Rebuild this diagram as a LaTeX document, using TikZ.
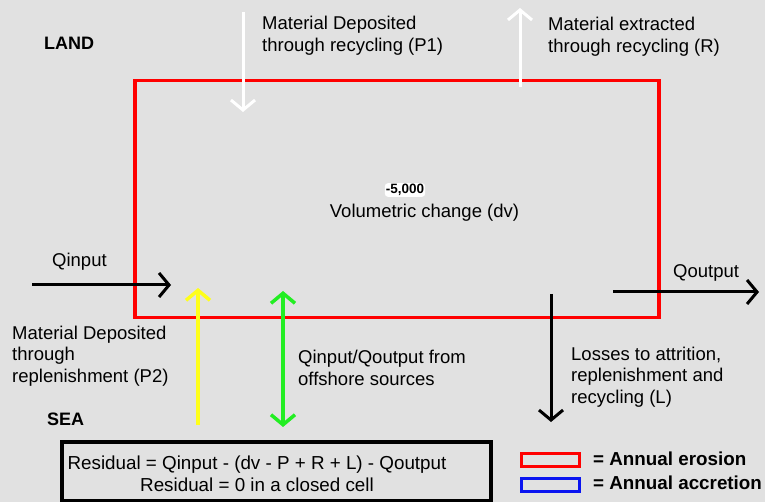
\documentclass[tikz,border=0pt]{standalone}
\usepackage{fontspec}
\setmainfont{Liberation Sans}
\usetikzlibrary{arrows.meta}
\definecolor{bggray}{HTML}{E1E1E1}
\definecolor{arrowyellow}{HTML}{FFFF1A}
\definecolor{arrowgreen}{HTML}{22EE22}
\definecolor{keyblue}{HTML}{0A14F0}
\begin{document}
\begin{tikzpicture}[x=1pt,y=-1pt,
  lbl/.style={font=\fontsize{18.5}{21.5}\selectfont,align=left,anchor=west,inner sep=0pt},
  zone/.style={font=\bfseries\fontsize{18}{21}\selectfont,inner sep=0pt},
  flow/.style={line width=3pt,-{Straight Barb[length=10pt,width=24pt]}},
  keybox/.style={draw,line width=3pt,minimum width=58pt,minimum height=13pt,inner sep=0pt}
]
\useasboundingbox (0,0) rectangle (765,502);
\fill[bggray] (0,0) rectangle (765,502);
% the cell
\node[draw=red,line width=3.5pt,minimum width=524pt,minimum height=237pt,inner sep=0pt,anchor=north west] (cell) at (133,79) {};
\node[font=\bfseries\fontsize{13.5}{15}\selectfont,fill=white,rounded corners=3pt,inner sep=1pt] (dvval) at (405,190) {-5,000};
\node[lbl,anchor=center] (dv) at (424.5,213) {Volumetric change (dv)};
\node[zone,anchor=west] (land) at (44,43) {LAND};
\node[zone,anchor=west] (sea) at (47,419) {SEA};
% recycling
\coordinate (p1top) at (243,12);
\coordinate (p1tip) at (243,112);
\draw[flow,white] (p1top) -- (p1tip);
\node[lbl] (p1) at (262,35.5) {Material Deposited\\through recycling (P1)};
\coordinate (rbot) at (520,87);
\coordinate (rtip) at (520,8);
\draw[flow,white] (rbot) -- (rtip);
\node[lbl] (r) at (548,36.5) {Material extracted\\through recycling (R)};
% longshore
\coordinate (qinstart) at (32,285);
\coordinate (qintip) at (171,285);
\draw[flow] (qinstart) -- (qintip);
\node[lbl] (qin) at (52,262) {Qinput};
\coordinate (qoutstart) at (613,292);
\coordinate (qouttip) at (759,292);
\draw[flow] (qoutstart) -- (qouttip);
\node[lbl] (qout) at (673,273) {Qoutput};
% sea side
\coordinate (p2bot) at (198,425);
\coordinate (p2tip) at (198,288);
\draw[flow,arrowyellow,line width=3.5pt] (p2bot) -- (p2tip);
\node[lbl] (p2) at (12,356) {Material Deposited\\through\\replenishment (P2)};
\coordinate (offtop) at (283,291);
\coordinate (offbot) at (283,427);
\draw[flow,arrowgreen,line width=3.5pt,{Straight Barb[length=10pt,width=24pt]}-{Straight Barb[length=10pt,width=24pt]}] (offtop) -- (offbot);
\node[lbl] (off) at (298,368) {Qinput/Qoutput from\\offshore sources};
\coordinate (losstop) at (551,294);
\coordinate (losstip) at (551,422);
\draw[flow] (losstop) -- (losstip);
\node[lbl] (loss) at (571,377) {Losses to attrition,\\replenishment and\\recycling (L)};
% budget
\node[draw,line width=4pt,minimum width=429pt,minimum height=59pt,inner sep=0pt,anchor=north west] (resid) at (60,440) {};
\node[font=\fontsize{18.8}{22}\selectfont,align=center,inner sep=0pt] (residtext) at (257,474) {Residual = Qinput - (dv - P + R + L) - Qoutput\\Residual = 0 in a closed cell};
% key
\node[keybox,draw=red] (erosionkey) at (550.5,459.5) {};
\node[keybox,draw=keyblue] (accretionkey) at (550.5,485) {};
\node[zone,anchor=west,font=\bfseries\fontsize{18.8}{21}\selectfont] (erosion) at (593,459) {= Annual erosion};
\node[zone,anchor=west,font=\bfseries\fontsize{18.8}{21}\selectfont] (accretion) at (593,483) {= Annual accretion};
\end{tikzpicture}
\end{document}
